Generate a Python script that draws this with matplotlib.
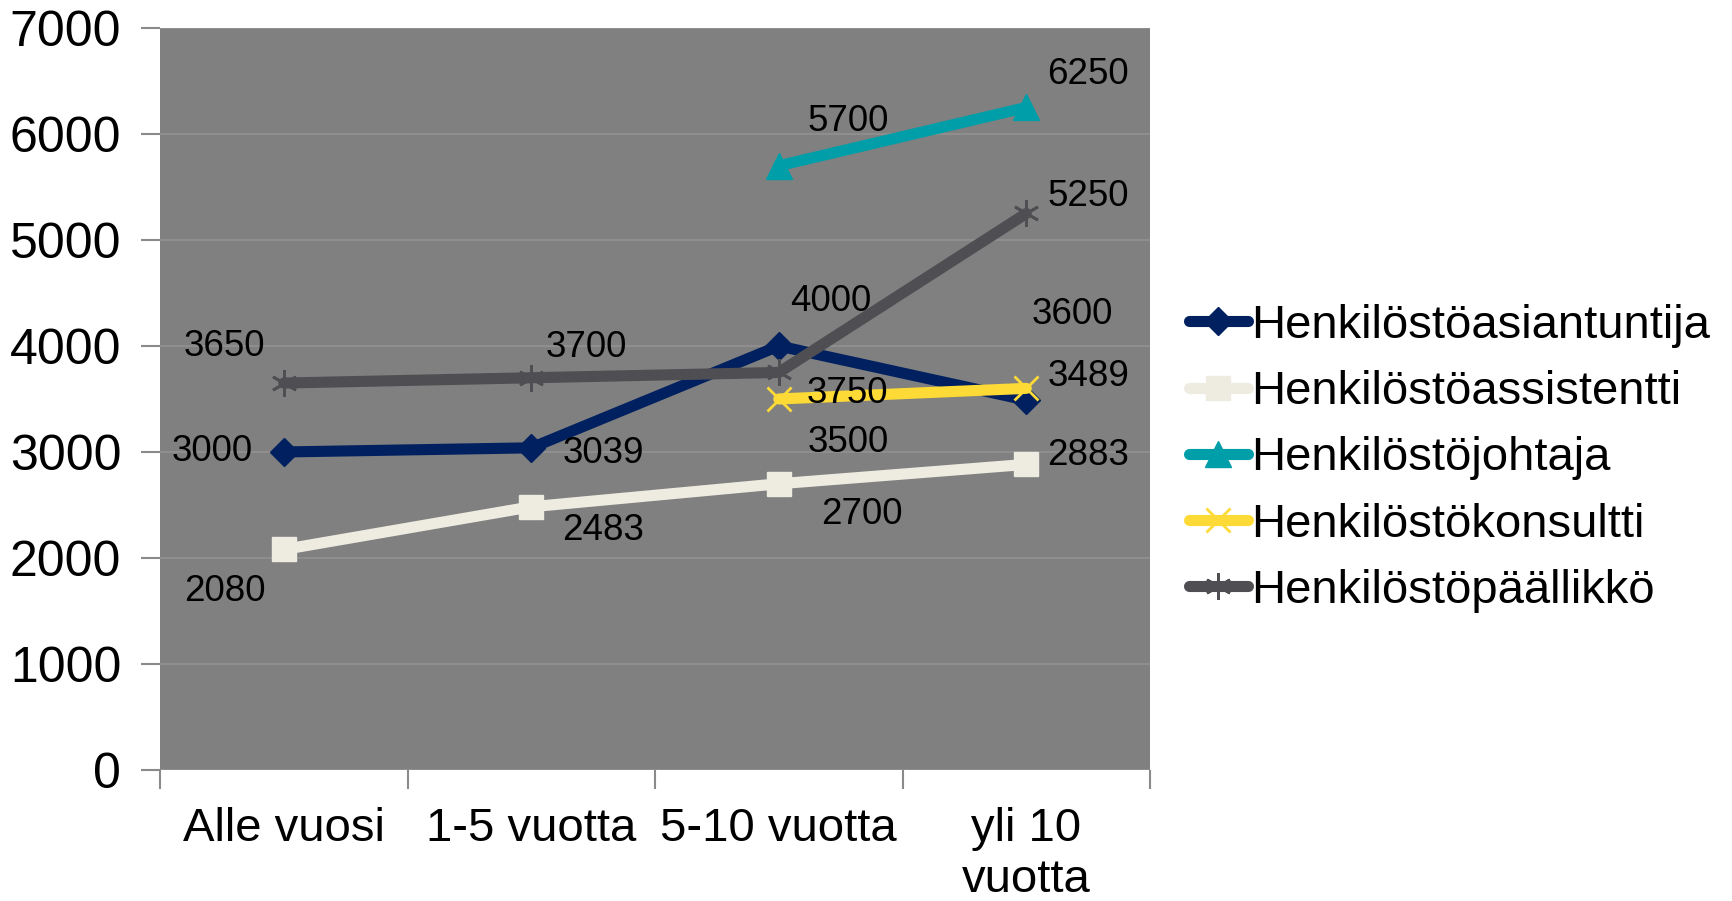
import numpy as np
import matplotlib
matplotlib.use("Agg")
import matplotlib.pyplot as plt

plt.rcParams['font.family'] = ['Liberation Sans', 'DejaVu Sans']

# kategoriat ja sarjat
kategoriat = ["Alle vuosi", "1-5 vuotta", "5-10 vuotta", "yli 10\nvuotta"]
asiantuntija = [3000, 3039, 4000, 3489]
assistentti = [2080, 2483, 2700, 2883]
johtaja = [np.nan, np.nan, 5700, 6250]
konsultti = [np.nan, np.nan, 3500, 3600]
paallikko = [3650, 3700, 3750, 5250]

# sarjat: nimi, arvot, väri, merkki, merkin koko, tekstien siirrot (pikseleinä)
sarjat = [
    ("Henkilöstöasiantuntija", asiantuntija, "#002060", "D", 14,
     [(-72, 0), (72, -6), (52, 44), (62, 24)]),
    ("Henkilöstöassistentti", assistentti, "#EEECE1", "s", 17,
     [(-59, -42), (72, -24), (83, -31), (62, 9)]),
    ("Henkilöstöjohtaja", johtaja, "#009EA8", "^", 19,
     [None, None, (69, 44), (62, 33)]),
    ("Henkilöstökonsultti", konsultti, "#FDDA35", "x", 17,
     [None, None, (69, -44), (46, 74)]),
    ("Henkilöstöpäällikkö", paallikko, "#4F4F53", (6, 2, 0), 19,
     [(-59, 37), (55, 30), (69, -21), (62, 17)]),
]

fig = plt.figure(figsize=(17.32, 9.01), dpi=100)
ax = fig.add_axes([0.0924, 0.1454, 0.5716, 0.8236])
ax.set_facecolor("#808080")
for s in ax.spines.values():
    s.set_visible(False)

x = np.arange(len(kategoriat)) + 0.5
for nimi, arvot, vari, merkki, koko, siirrot in sarjat:
    ax.plot(x, arvot, color=vari, lw=8, marker=merkki, markersize=koko,
            markeredgewidth=2 if merkki in ("x", (6, 2, 0)) else 1,
            markeredgecolor=vari, label=nimi, solid_capstyle="round",
            solid_joinstyle="miter")
    for xi, yi, off in zip(x, arvot, siirrot):
        if off is None or np.isnan(yi):
            continue
        ax.annotate(str(yi), (xi, yi), xytext=off, textcoords="offset pixels",
                    ha="center", va="center", fontsize=26.5, color="black")

ax.set_xlim(0, 4)
ax.set_ylim(0, 7000)
ax.set_yticks(np.arange(0, 7001, 1000))
ax.yaxis.grid(True, color="#8E8E8E", lw=1.5)
ax.set_axisbelow(True)
ax.tick_params(axis="y", labelsize=36, length=14, width=1.5, color="#8a8a8a", pad=14)

ax.set_xticks(x)
ax.set_xticklabels(kategoriat, fontsize=34, linespacing=1.2)
ax.set_xticks(np.arange(0, 5), minor=True)
ax.tick_params(axis="x", which="major", length=0, pad=27)
ax.tick_params(axis="x", which="minor", length=14, width=1.5, color="#8a8a8a")

ax.legend(loc="center left", bbox_to_anchor=(1.02, 0.42), frameon=False,
          fontsize=34, handlelength=1.25, handletextpad=0.08, labelspacing=0.47,
          borderaxespad=0)

fig.savefig("out.png", dpi=100)
